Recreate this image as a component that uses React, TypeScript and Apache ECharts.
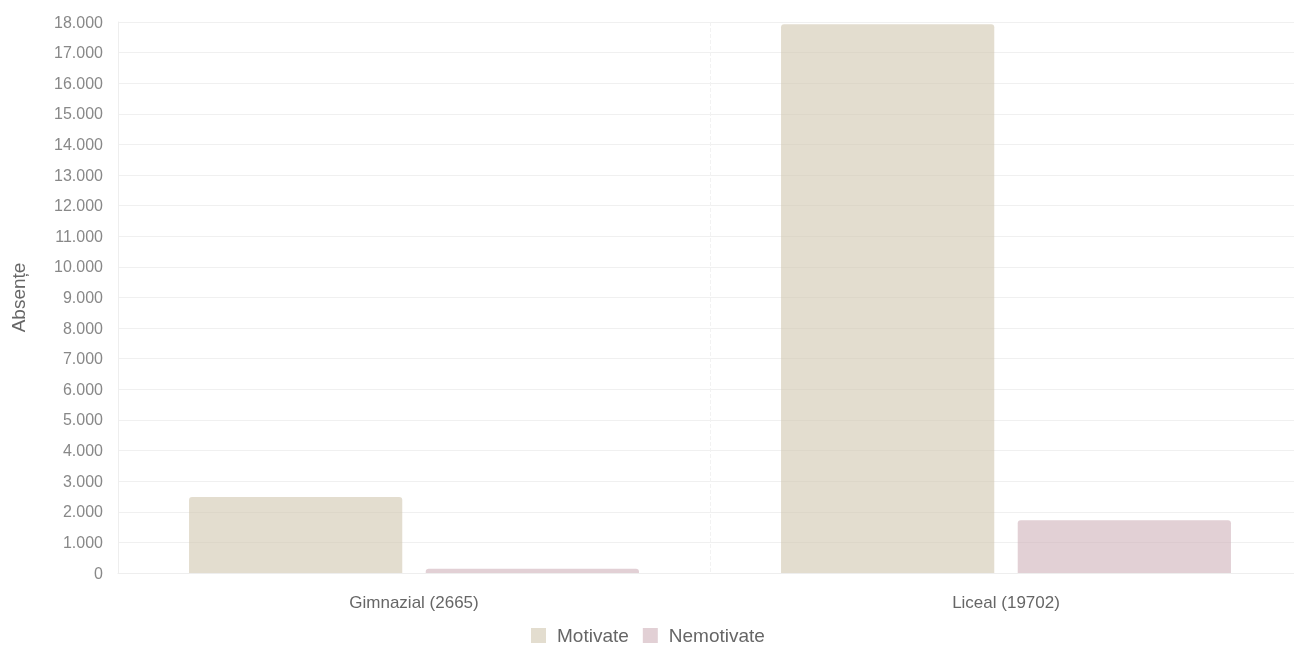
import React, { useEffect, useRef } from "react";
import * as echarts from "echarts";

const categories = ["Gimnazial (2665)", "Liceal (19702)"];
const motivate = [2480, 17930];
const nemotivate = [140, 1725];
const seriesNames = ["Motivate", "Nemotivate"];

const fmt = (v: number) => String(v).replace(/\B(?=(\d{3})+(?!\d))/g, ".");

export default function App() {
  const ref = useRef<HTMLDivElement>(null);
  useEffect(() => {
    if (!ref.current) return;
    const chart = echarts.init(ref.current, undefined, { renderer: "svg" });
    chart.setOption({
      animation: false,
      textStyle: { fontFamily: "Liberation Sans, Arial, sans-serif" },
      grid: { left: 118, right: 8, top: 22, bottom: 73, containLabel: false },
      legend: {
        top: 621,
        left: 526,
        itemWidth: 15,
        itemHeight: 15,
        itemGap: 14,
        icon: "rect",
        textStyle: { fontSize: 19, color: "#666", padding: [0, 0, 0, 6] },
        data: seriesNames,
      },
      xAxis: {
        type: "category",
        data: categories,
        axisLine: { show: true, lineStyle: { color: "#eeeeee" } },
        axisTick: { show: false },
        axisLabel: { fontSize: 17, color: "#666", margin: 21 },
        splitLine: { show: true, lineStyle: { color: "#f2f2f2", type: "dashed" } },
      },
      yAxis: {
        type: "value",
        min: 0,
        max: 18000,
        interval: 1000,
        name: "Absențe",
        nameLocation: "middle",
        nameGap: 90,
        nameTextStyle: { fontSize: 19, color: "#666" },
        axisLine: { show: true, lineStyle: { color: "#eeeeee" } },
        axisTick: { show: false },
        axisLabel: { fontSize: 16, color: "#888", margin: 15, formatter: (v: number) => fmt(v) },
        splitLine: { show: true, lineStyle: { color: "#f0f0f0" } },
      },
      series: [
        {
          name: seriesNames[0],
          type: "bar",
          data: motivate,
          barGap: "11%",
          barCategoryGap: "24%",
          itemStyle: { color: "rgba(208,198,175,0.6)", borderRadius: [3, 3, 0, 0] },
        },
        {
          name: seriesNames[1],
          type: "bar",
          data: nemotivate,
          barGap: "11%",
          barCategoryGap: "24%",
          itemStyle: { color: "rgba(207,177,185,0.6)", borderRadius: [3, 3, 0, 0] },
        },
      ],
    });
    return () => chart.dispose();
  }, []);
  return (
    <div
      ref={ref}
      style={{ position: "fixed", left: 0, top: 0, width: 1310, height: 646 }}
    />
  );
}
